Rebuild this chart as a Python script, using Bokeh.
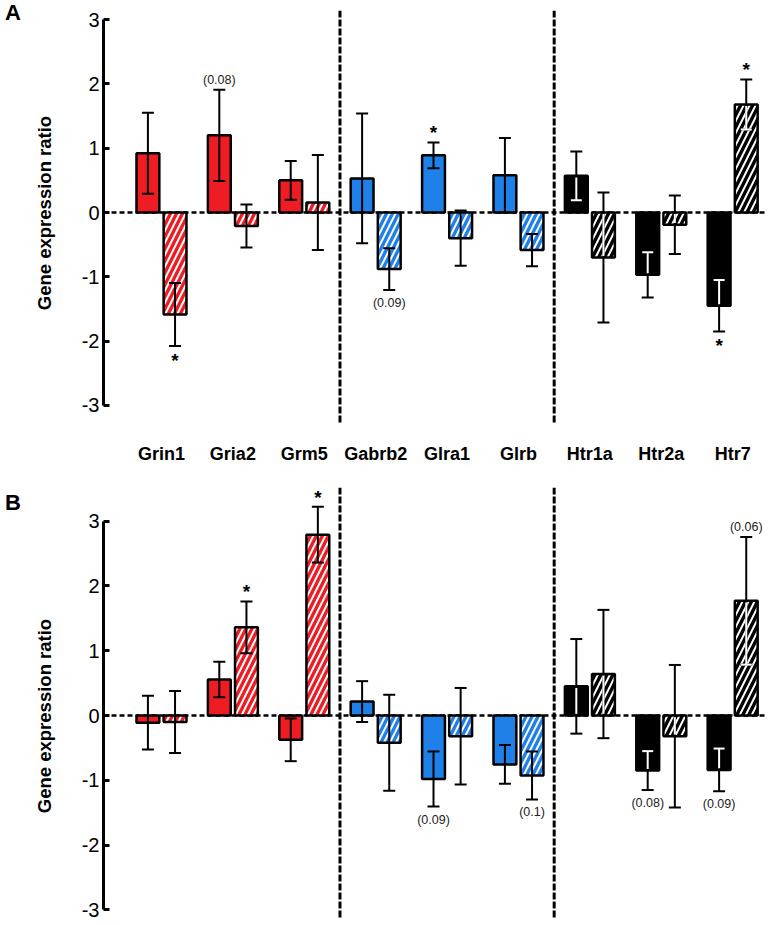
import numpy as np
from bokeh.plotting import figure
from bokeh.models import ColumnDataSource, Range1d, FixedTicker, Span, Div
from bokeh.layouts import column, row
from bokeh.embed import file_html
from bokeh.resources import INLINE

# ---------------- data ----------------
genes = ["Grin1", "Gria2", "Grm5", "Gabrb2", "Glra1", "Glrb", "Htr1a", "Htr2a", "Htr7"]
families = ["glu", "glu", "glu", "gly", "gly", "gly", "ht", "ht", "ht"]
family_colors = {"glu": "#EE1D23", "gly": "#1F80E8", "ht": "#000000"}
yticks = [-3, -2, -1, 0, 1, 2, 3]
ytick_labels = ["-3", "-2", "-1", "0", "1", "2", "3"]
y_title = "Gene expression ratio"

# Panel A
a_solid = [0.92, 1.20, 0.50, 0.53, 0.89, 0.58, 0.57, -0.97, -1.45]
a_solid_err = [0.63, 0.71, 0.30, 1.01, 0.20, 0.58, 0.38, 0.35, 0.40]
a_hatched = [-1.585, -0.21, 0.155, -0.88, -0.40, -0.585, -0.70, -0.19, 1.68]
a_hatched_err = [0.49, 0.335, 0.74, 0.325, 0.43, 0.25, 1.01, 0.455, 0.39]
a_solid_note = ["", "(0.08)", "", "", "*", "", "", "", "*"]
a_hatched_note = ["*", "", "", "(0.09)", "", "", "", "", "*"]

# Panel B
b_solid = [-0.11, 0.555, -0.375, 0.215, -0.98, -0.755, 0.45, -0.85, -0.84]
b_solid_err = [0.415, 0.275, 0.33, 0.315, 0.425, 0.30, 0.73, 0.30, 0.33]
b_hatched = [-0.10, 1.36, 2.79, -0.42, -0.32, -0.925, 0.64, -0.32, 1.77]
b_hatched_err = [0.48, 0.40, 0.43, 0.74, 0.745, 0.37, 0.99, 1.10, 0.985]
b_solid_note = ["", "", "", "", "(0.09)", "", "", "(0.08)", "(0.09)"]
b_hatched_note = ["", "*", "*", "", "", "(0.1)", "", "", "(0.06)"]

# ---------------- layout constants ----------------
FONT = "Liberation Sans"
OFFSET = 0.19
BAR_W = 0.32
PX_PER_CAT = 71.4
X0 = -0.812
DIV_W = 60
FIG_W = 705
BORDER_LEFT = 43
FRAME_W = FIG_W - BORDER_LEFT
SEPARATORS = [2.5, 5.5]


def add_errorbars(p, xs, vals, errs, fams):
    vals = np.asarray(vals, float)
    errs = np.asarray(errs, float)
    lo = vals - errs
    hi = vals + errs
    src = ColumnDataSource(dict(x=xs, lo=lo, hi=hi))
    p.segment(x0="x", y0="lo", x1="x", y1="hi", source=src, line_color="black", line_width=2)
    p.scatter(x="x", y="lo", source=src, marker="dash", size=12, line_color="black", line_width=2)
    p.scatter(x="x", y="hi", source=src, marker="dash", size=12, line_color="black", line_width=2)
    # part of the error bar inside dark bars is drawn white
    dark = np.array([f == "ht" for f in fams])
    bar_lo = np.minimum(0, vals)
    bar_hi = np.maximum(0, vals)
    pad = 0.025
    in_lo = np.maximum(bar_lo + pad, lo)
    in_hi = np.minimum(bar_hi - pad, hi)
    m = dark & (in_hi > in_lo)
    xs_arr = np.asarray(xs, float)
    p.segment(x0=xs_arr[m], y0=in_lo[m], x1=xs_arr[m], y1=in_hi[m], line_color="white", line_width=2)
    cap_lo = dark & (lo > bar_lo + pad)
    cap_hi = dark & (hi < bar_hi - pad)
    p.scatter(x=xs_arr[cap_lo], y=lo[cap_lo], marker="dash", size=11, line_color="white", line_width=2)
    p.scatter(x=xs_arr[cap_hi], y=hi[cap_hi], marker="dash", size=11, line_color="white", line_width=2)


def add_notes(p, xs, vals, errs, notes):
    vals = np.asarray(vals, float)
    errs = np.asarray(errs, float)
    for kind in ("star", "p"):
        for up in (True, False):
            sel = [i for i, n in enumerate(notes)
                   if n and ((n == "*") == (kind == "star")) and ((vals[i] > 0) == up)]
            if not sel:
                continue
            x = [xs[i] for i in sel]
            y = [vals[i] + errs[i] if up else vals[i] - errs[i] for i in sel]
            t = [notes[i] for i in sel]
            if kind == "star":
                p.text(x=x, y=y, text=t, text_font={"value": FONT}, text_font_style="bold",
                       text_font_size="19px", text_align="center",
                       text_baseline="bottom" if up else "top",
                       y_offset=1 if up else 4, text_color="black")
            else:
                p.text(x=x, y=y, text=t, text_font={"value": FONT},
                       text_font_size="12.5px", text_align="center",
                       text_baseline="bottom" if up else "top",
                       y_offset=-3 if up else 6, text_color="#222222")


def build(solid, solid_err, hatched, hatched_err, solid_note, hatched_note,
          height, border_top, border_bottom, y_lo, y_hi, show_genes):
    p = figure(width=FIG_W, height=height, output_backend="svg", toolbar_location=None, tools="",
               x_range=Range1d(X0, X0 + FRAME_W / PX_PER_CAT), y_range=Range1d(y_lo, y_hi),
               min_border_left=BORDER_LEFT, min_border_right=0, min_border_top=border_top,
               min_border_bottom=border_bottom,
               x_axis_location="below" if show_genes else None)
    p.grid.visible = False
    p.outline_line_color = None
    p.background_fill_color = "white"

    yax = p.yaxis[0]
    yax.ticker = FixedTicker(ticks=yticks)
    yax.major_label_overrides = {t: s for t, s in zip(yticks, ytick_labels)}
    yax.bounds = (-3, 3)
    yax.axis_line_width = 3
    yax.major_tick_line_width = 3
    yax.major_tick_in = 6
    yax.major_tick_out = 0
    yax.minor_tick_line_color = None
    yax.major_label_text_font = FONT
    yax.major_label_text_font_size = "20px"
    yax.major_label_text_color = "black"
    yax.major_label_standoff = 4

    if show_genes:
        xax = p.xaxis[0]
        xax.ticker = FixedTicker(ticks=list(range(len(genes))))
        xax.major_label_overrides = {i: g for i, g in enumerate(genes)}
        xax.axis_line_color = None
        xax.major_tick_line_color = None
        xax.minor_tick_line_color = None
        xax.major_tick_in = 0
        xax.major_tick_out = 0
        xax.major_label_standoff = 20
        xax.major_label_text_font = FONT
        xax.major_label_text_font_style = "bold"
        xax.major_label_text_font_size = "18px"
        xax.major_label_text_color = "black"

    p.add_layout(Span(location=0, dimension="width", line_color="black", line_width=2.5,
                      line_dash="5 3", level="underlay"))
    for s in SEPARATORS:
        p.add_layout(Span(location=s, dimension="height", line_color="black", line_width=3,
                          line_dash="7 2"))

    idx = np.arange(len(genes))
    xs_s = list(idx - OFFSET)
    xs_h = list(idx + OFFSET)
    colors = [family_colors[f] for f in families]

    p.vbar(x=xs_s, top=solid, bottom=0, width=BAR_W, fill_color=colors,
           line_color="black", line_width=2.5)
    p.vbar(x=xs_h, top=hatched, bottom=0, width=BAR_W, fill_color=colors,
           line_color="black", line_width=2.5, hatch_pattern="/", hatch_color="white",
           hatch_scale=12, hatch_weight=2)

    add_errorbars(p, xs_s, solid, solid_err, families)
    add_errorbars(p, xs_h, hatched, hatched_err, families)
    add_notes(p, xs_s, solid, solid_err, solid_note)
    add_notes(p, xs_h, hatched, hatched_err, hatched_note)
    return p


def side_div(letter, letter_top, zero_y, height):
    html = (
        '<div style="position:relative;width:%dpx;height:%dpx;font-family:\'Liberation Sans\';color:black">'
        '<div style="position:absolute;left:5px;top:%dpx;font-weight:bold;font-size:22px;line-height:10px">%s</div>'
        '<div style="position:absolute;left:45px;top:%dpx;font-weight:bold;font-size:18.5px;line-height:18px;'
        'white-space:nowrap;transform:translate(-50%%,-50%%) rotate(-90deg)">%s</div>'
        '</div>' % (DIV_W, height, letter_top, letter, zero_y, y_title))
    return Div(text=html, width=DIV_W, height=height, margin=(0, 0, 0, 0))


# panel A: zero at 212 px, 64.3 px per unit; frame 10..423
pA = build(a_solid, a_solid_err, a_hatched, a_hatched_err, a_solid_note, a_hatched_note,
           470, 10, 47, -(423 - 212) / 64.3, (212 - 10) / 64.3, True)
# panel B: zero at 715 px, 64.8 px per unit; frame 487..918 (figure starts at 470)
pB = build(b_solid, b_solid_err, b_hatched, b_hatched_err, b_solid_note, b_hatched_note,
           450, 17, 2, -(918 - 715) / 64.8, (715 - 487) / 64.8, False)

layout = column(row(side_div("A", 8, 213, 470), pA, spacing=0),
                row(side_div("B", 28, 716 - 470, 450), pB, spacing=0), spacing=0)
open("out.html", "w").write(file_html(layout, INLINE))
